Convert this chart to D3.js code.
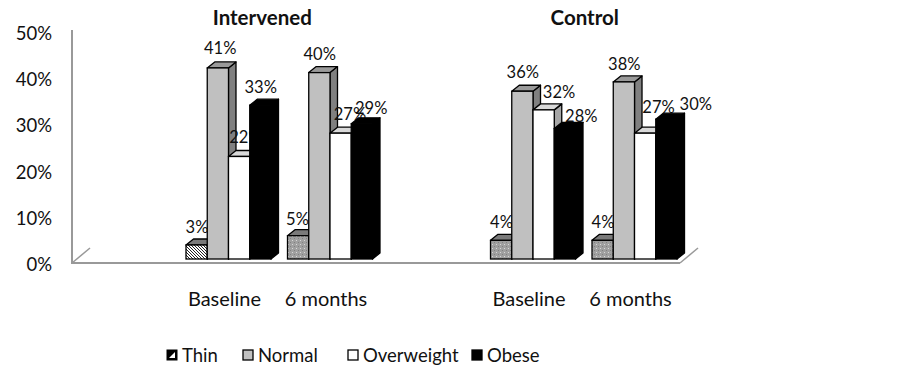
<!DOCTYPE html>
<html><head><meta charset="utf-8">
<script src="https://cdn.jsdelivr.net/npm/d3@7/dist/d3.min.js"></script>
<style>body{margin:0;background:#fff}svg{display:block;font-family:Lato,"Open Sans",sans-serif}</style>
</head><body><svg id="c" width="903" height="371"></svg>
<script>
// ---- data ----
const panels = ["Intervened", "Control"];
const times = ["Baseline", "6 months"];
const series = ["Thin", "Normal", "Overweight", "Obese"];
const intervenedBaseline = [3, 41, 22, 33];
const intervened6m = [5, 40, 27, 29];
const controlBaseline = [4, 36, 32, 28];
const control6m = [4, 38, 27, 30];
const tickValues = [0, 10, 20, 30, 40, 50];

// ---- layout ----
const svg = d3.select("#c");
const groups = [
  {panel: 0, time: 0, slot: 1, values: intervenedBaseline},
  {panel: 0, time: 1, slot: 2, values: intervened6m},
  {panel: 1, time: 0, slot: 4, values: controlBaseline},
  {panel: 1, time: 1, slot: 5, values: control6m}
];
const x = d3.scaleBand().domain(d3.range(6)).range([72, 689.5]).paddingInner(0.1626).paddingOuter(0.123);
const xs = d3.scaleBand().domain(series).range([0, x.bandwidth()]);
const y = d3.scaleLinear().domain([0, 50]).range([259, 26]);
const yAxisScale = d3.scaleLinear().domain([0, 50]).range([264, 33]);
const DX = 7.5, DY = 6;
const labelNudge = [
  [[0,0],[2,-2],[6,-1],[0,0]],
  [[-1,1],[0,-1],[9,-1],[9,2]],
  [[0,0],[0,-1],[15,0],[16,5]],
  [[0,0],[0,0],[13,-8],[29,3]]
];

// patterns
const defs = svg.append("defs");
const hatch = defs.append("pattern").attr("id","hatch").attr("patternUnits","userSpaceOnUse").attr("width",3).attr("height",3);
hatch.append("rect").attr("width",3).attr("height",3).attr("fill","#fff");
hatch.append("path").attr("d","M0,0 L3,3 M-1,2 L1,4 M2,-1 L4,1").attr("stroke","#222").attr("stroke-width",1);
const dots = defs.append("pattern").attr("id","dots").attr("patternUnits","userSpaceOnUse").attr("width",4).attr("height",4);
dots.append("rect").attr("width",4).attr("height",4).attr("fill","#a0a0a0");
dots.append("rect").attr("x",0).attr("y",0).attr("width",1).attr("height",1).attr("fill","#d8d8d8");
dots.append("rect").attr("x",2).attr("y",2).attr("width",1).attr("height",1).attr("fill","#808080");

const frontFill = (gi, si) => si === 0 ? (gi === 0 ? "url(#hatch)" : "url(#dots)") : ["#a0a0a0","#c0c0c0","#ffffff","#000000"][si];
const topFill = ["#7a7a7a","#9a9a9a","#d9d9d9","#000000"];
const sideFill = ["#6e6e6e","#808080","#a6a6a6","#000000"];

// axis line and floor
const floorY = 263;
svg.append("line").attr("x1",72).attr("x2",72).attr("y1",30).attr("y2",floorY).attr("stroke","#999").attr("stroke-width",2);
svg.append("line").attr("x1",71).attr("x2",680).attr("y1",floorY).attr("y2",floorY).attr("stroke","#999").attr("stroke-width",2);
svg.append("line").attr("x1",72).attr("x2",90).attr("y1",floorY).attr("y2",floorY-15).attr("stroke","#999").attr("stroke-width",1.5);
svg.append("line").attr("x1",680).attr("x2",698).attr("y1",floorY).attr("y2",floorY-15).attr("stroke","#999").attr("stroke-width",1.5);

// tick labels
svg.append("g").selectAll("text").data(tickValues).join("text")
  .attr("x", 52).attr("y", d => yAxisScale(d)).attr("text-anchor","end").attr("dominant-baseline","central")
  .attr("font-size",18.5).attr("fill","#111").text(d => d + "%");

// bars
const base = y(0);
groups.forEach((g, gi) => {
  const gx = x(g.slot);
  const gEl = svg.append("g");
  g.values.forEach((v, si) => {
    const x0 = gx + xs(series[si]), x1 = x0 + xs.bandwidth(), t = y(v);
    const stroke = "#000";
    gEl.append("path").attr("d", `M${x1},${t}L${x1+DX},${t-DY}L${x1+DX},${base-DY}L${x1},${base}Z`)
      .attr("fill", sideFill[si]).attr("stroke", stroke).attr("stroke-width",1.3).attr("stroke-linejoin","round");
    gEl.append("path").attr("d", `M${x0},${t}L${x0+DX},${t-DY}L${x1+DX},${t-DY}L${x1},${t}Z`)
      .attr("fill", topFill[si]).attr("stroke", stroke).attr("stroke-width",1.3).attr("stroke-linejoin","round");
    gEl.append("rect").attr("x", x0).attr("y", t).attr("width", x1 - x0).attr("height", base - t)
      .attr("fill", frontFill(gi, si)).attr("stroke", stroke).attr("stroke-width",1.3);
    const n = labelNudge[gi][si];
    gEl.append("text").attr("x", x0 + 11 + n[0]).attr("y", t - 18 + n[1])
      .attr("text-anchor","middle").attr("dominant-baseline","central").attr("font-size",16.5).attr("fill","#111")
      .text(v + "%");
  });
  svg.append("text").attr("x", gx + x.bandwidth()/2 - 4).attr("y", 298)
    .attr("text-anchor","middle").attr("dominant-baseline","central").attr("font-size",20).attr("fill","#111")
    .text(times[g.time]);
});

// panel titles
const titleX = [ (x(1) + x(2) + x.bandwidth())/2 - 17, (x(4) + x(5) + x.bandwidth())/2 + 1 ];
panels.forEach((p, i) => {
  svg.append("text").attr("x", titleX[i]).attr("y", 17).attr("text-anchor","middle").attr("dominant-baseline","central")
    .attr("font-size",20.5).attr("font-weight","bold").attr("fill","#111").text(p);
});

// legend
const legendX = [167, 243, 348, 472];
const lg = svg.append("g");
series.forEach((s, i) => {
  const lx = legendX[i], ly = 350;
  if (i === 0) {
    lg.append("rect").attr("x", lx).attr("y", ly).attr("width",10).attr("height",10).attr("fill","#000").attr("stroke","#000");
    lg.append("path").attr("d", `M${lx+2},${ly+8}L${lx+8},${ly+2}L${lx+8},${ly+8}Z`).attr("fill","#fff");
  } else {
    lg.append("rect").attr("x", lx).attr("y", ly).attr("width",10).attr("height",10)
      .attr("fill", ["", "#c0c0c0", "#fff", "#000"][i]).attr("stroke","#000").attr("stroke-width",1.3);
  }
  lg.append("text").attr("x", lx + 15).attr("y", ly + 5).attr("dominant-baseline","central")
    .attr("font-size",18.5).attr("fill","#111").text(s);
});
</script></body></html>
